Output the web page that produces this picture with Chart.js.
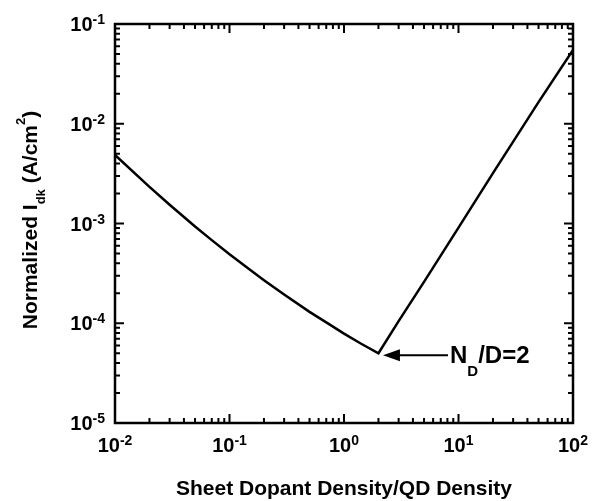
<!DOCTYPE html>
<html lang="en">
<head>
    <meta charset="UTF-8">
    <title>Normalized Idk vs Sheet Dopant Density</title>
    <script src="https://cdn.jsdelivr.net/npm/chart.js"></script>
    <style>
        body { margin: 0; background: #fff; }
        #wrap { width: 606px; height: 501px; position: relative; }
    </style>
</head>
<body>
<div id="wrap"><canvas id="idkChart"></canvas></div>

<script>
// sheet dopant density / QD density
const densityRatio = [0.01, 0.02, 0.03, 0.05, 0.07, 0.1, 0.15, 0.2, 0.3, 0.5, 0.7, 1, 1.4, 2,
                      3, 5, 10, 20, 50, 100];
// normalized dark current (A/cm^2)
const idkValues = [4.86e-3, 2.33e-3, 1.54e-3, 9.34e-4, 6.81e-4, 4.92e-4, 3.45e-4, 2.70e-4, 1.94e-4,
                   1.30e-4, 1.02e-4, 7.88e-5, 6.27e-5, 5.0e-5,
                   1.05e-4, 2.6e-4, 9.1e-4, 3.2e-3, 1.65e-2, 5.5e-2];

// decade tick labels (exponents of 10)
const xTickExps = [-2, -1, 0, 1, 2];
const yTickExps = [-5, -4, -3, -2, -1];

// the annotated point
const markerX = 2;
const markerY = 5.0e-5;

const FONT = '"Liberation Sans", Arial, Helvetica, sans-serif';

function font(size) {
    return 'bold ' + size + 'px ' + FONT;
}

// "10" with a superscript exponent
function drawPow(ctx, exp, x, baseline, align) {
    const base = '10';
    const sup = String(exp);
    ctx.font = font(20);
    const wb = ctx.measureText(base).width;
    ctx.font = font(14);
    const ws = ctx.measureText(sup).width;
    let left = x;
    if (align === 'center') left = x - (wb + ws) / 2;
    if (align === 'right') left = x - (wb + ws);
    ctx.textAlign = 'left';
    ctx.textBaseline = 'alphabetic';
    ctx.font = font(20);
    ctx.fillText(base, left, baseline);
    ctx.font = font(14);
    ctx.fillText(sup, left + wb, baseline - 7);
}

// draws a run of text pieces [text, size, dy] from x along the baseline
function drawRuns(ctx, runs, x, baseline) {
    ctx.textAlign = 'left';
    ctx.textBaseline = 'alphabetic';
    let cx = x;
    runs.forEach(r => {
        ctx.font = font(r[1]);
        ctx.fillText(r[0], cx, baseline + r[2]);
        cx += ctx.measureText(r[0]).width;
    });
}

function runsWidth(ctx, runs) {
    let w = 0;
    runs.forEach(r => {
        ctx.font = font(r[1]);
        w += ctx.measureText(r[0]).width;
    });
    return w;
}

const framePlugin = {
    id: 'frame',
    afterDraw(chart) {
        const ctx = chart.ctx;
        const a = chart.chartArea;
        const xs = chart.scales.x;
        const ys = chart.scales.y;
        ctx.save();
        ctx.fillStyle = '#000';
        ctx.strokeStyle = '#000';

        // box
        ctx.lineWidth = 2.5;
        ctx.strokeRect(a.left, a.top, a.right - a.left, a.bottom - a.top);

        // inward ticks on all four sides
        ctx.lineWidth = 2;
        ctx.beginPath();
        for (let e = xTickExps[0]; e <= xTickExps[xTickExps.length - 1]; e++) {
            for (let m = 1; m <= 9; m++) {
                const v = m * Math.pow(10, e);
                if (v > 100.0001) break;
                const px = xs.getPixelForValue(v);
                const len = m === 1 ? 9 : 5;
                ctx.moveTo(px, a.bottom); ctx.lineTo(px, a.bottom - len);
                ctx.moveTo(px, a.top); ctx.lineTo(px, a.top + len);
            }
        }
        for (let e = yTickExps[0]; e <= yTickExps[yTickExps.length - 1]; e++) {
            for (let m = 1; m <= 9; m++) {
                const v = m * Math.pow(10, e);
                if (v > 0.100001) break;
                const py = ys.getPixelForValue(v);
                const len = m === 1 ? 9 : 5;
                ctx.moveTo(a.left, py); ctx.lineTo(a.left + len, py);
                ctx.moveTo(a.right, py); ctx.lineTo(a.right - len, py);
            }
        }
        ctx.stroke();

        // tick labels
        xTickExps.forEach(e => {
            drawPow(ctx, e, xs.getPixelForValue(Math.pow(10, e)), a.bottom + 29, 'center');
        });
        yTickExps.forEach(e => {
            drawPow(ctx, e, a.left - 10, ys.getPixelForValue(Math.pow(10, e)) + 7, 'right');
        });

        // x axis title
        ctx.font = font(21);
        ctx.textAlign = 'center';
        ctx.fillText('Sheet Dopant Density/QD Density', (a.left + a.right) / 2, 495);

        // y axis title
        const yRuns = [['Normalized I', 21, 0], ['dk', 13, 8], [' (A/cm', 21, 0], ['2', 13, -12], [')', 21, 0]];
        ctx.save();
        ctx.translate(37, 220);
        ctx.rotate(-Math.PI / 2);
        drawRuns(ctx, yRuns, -runsWidth(ctx, yRuns) / 2, 0);
        ctx.restore();

        // arrow + label at the minimum
        const tipX = xs.getPixelForValue(markerX) + 4.5;
        const tipY = ys.getPixelForValue(markerY) + 2;
        ctx.beginPath();
        ctx.moveTo(tipX, tipY);
        ctx.lineTo(tipX + 17, tipY - 6);
        ctx.lineTo(tipX + 17, tipY + 6);
        ctx.closePath();
        ctx.fill();
        ctx.lineWidth = 2;
        ctx.beginPath();
        ctx.moveTo(tipX + 12, tipY);
        ctx.lineTo(tipX + 65, tipY);
        ctx.stroke();
        drawRuns(ctx, [['N', 24, 0], ['D', 15, 13], ['/D=2', 24, 0]], tipX + 67, tipY + 8);

        ctx.restore();
    }
};

const ctx = document.getElementById('idkChart').getContext('2d');
new Chart(ctx, {
    type: 'line',
    data: {
        datasets: [{
            label: 'Normalized Idk',
            data: densityRatio.map((v, i) => ({ x: v, y: idkValues[i] })),
            borderColor: '#000',
            borderWidth: 2.5,
            pointRadius: 0,
            tension: 0,
            fill: false
        }]
    },
    options: {
        responsive: true,
        maintainAspectRatio: false,
        animation: false,
        layout: { padding: { left: 115, right: 33, top: 24, bottom: 78 } },
        scales: {
            x: { type: 'logarithmic', min: 0.01, max: 100, display: false },
            y: { type: 'logarithmic', min: 1e-5, max: 1e-1, display: false }
        },
        plugins: {
            legend: { display: false },
            tooltip: { enabled: false }
        }
    },
    plugins: [framePlugin]
});
</script>
</body>
</html>
